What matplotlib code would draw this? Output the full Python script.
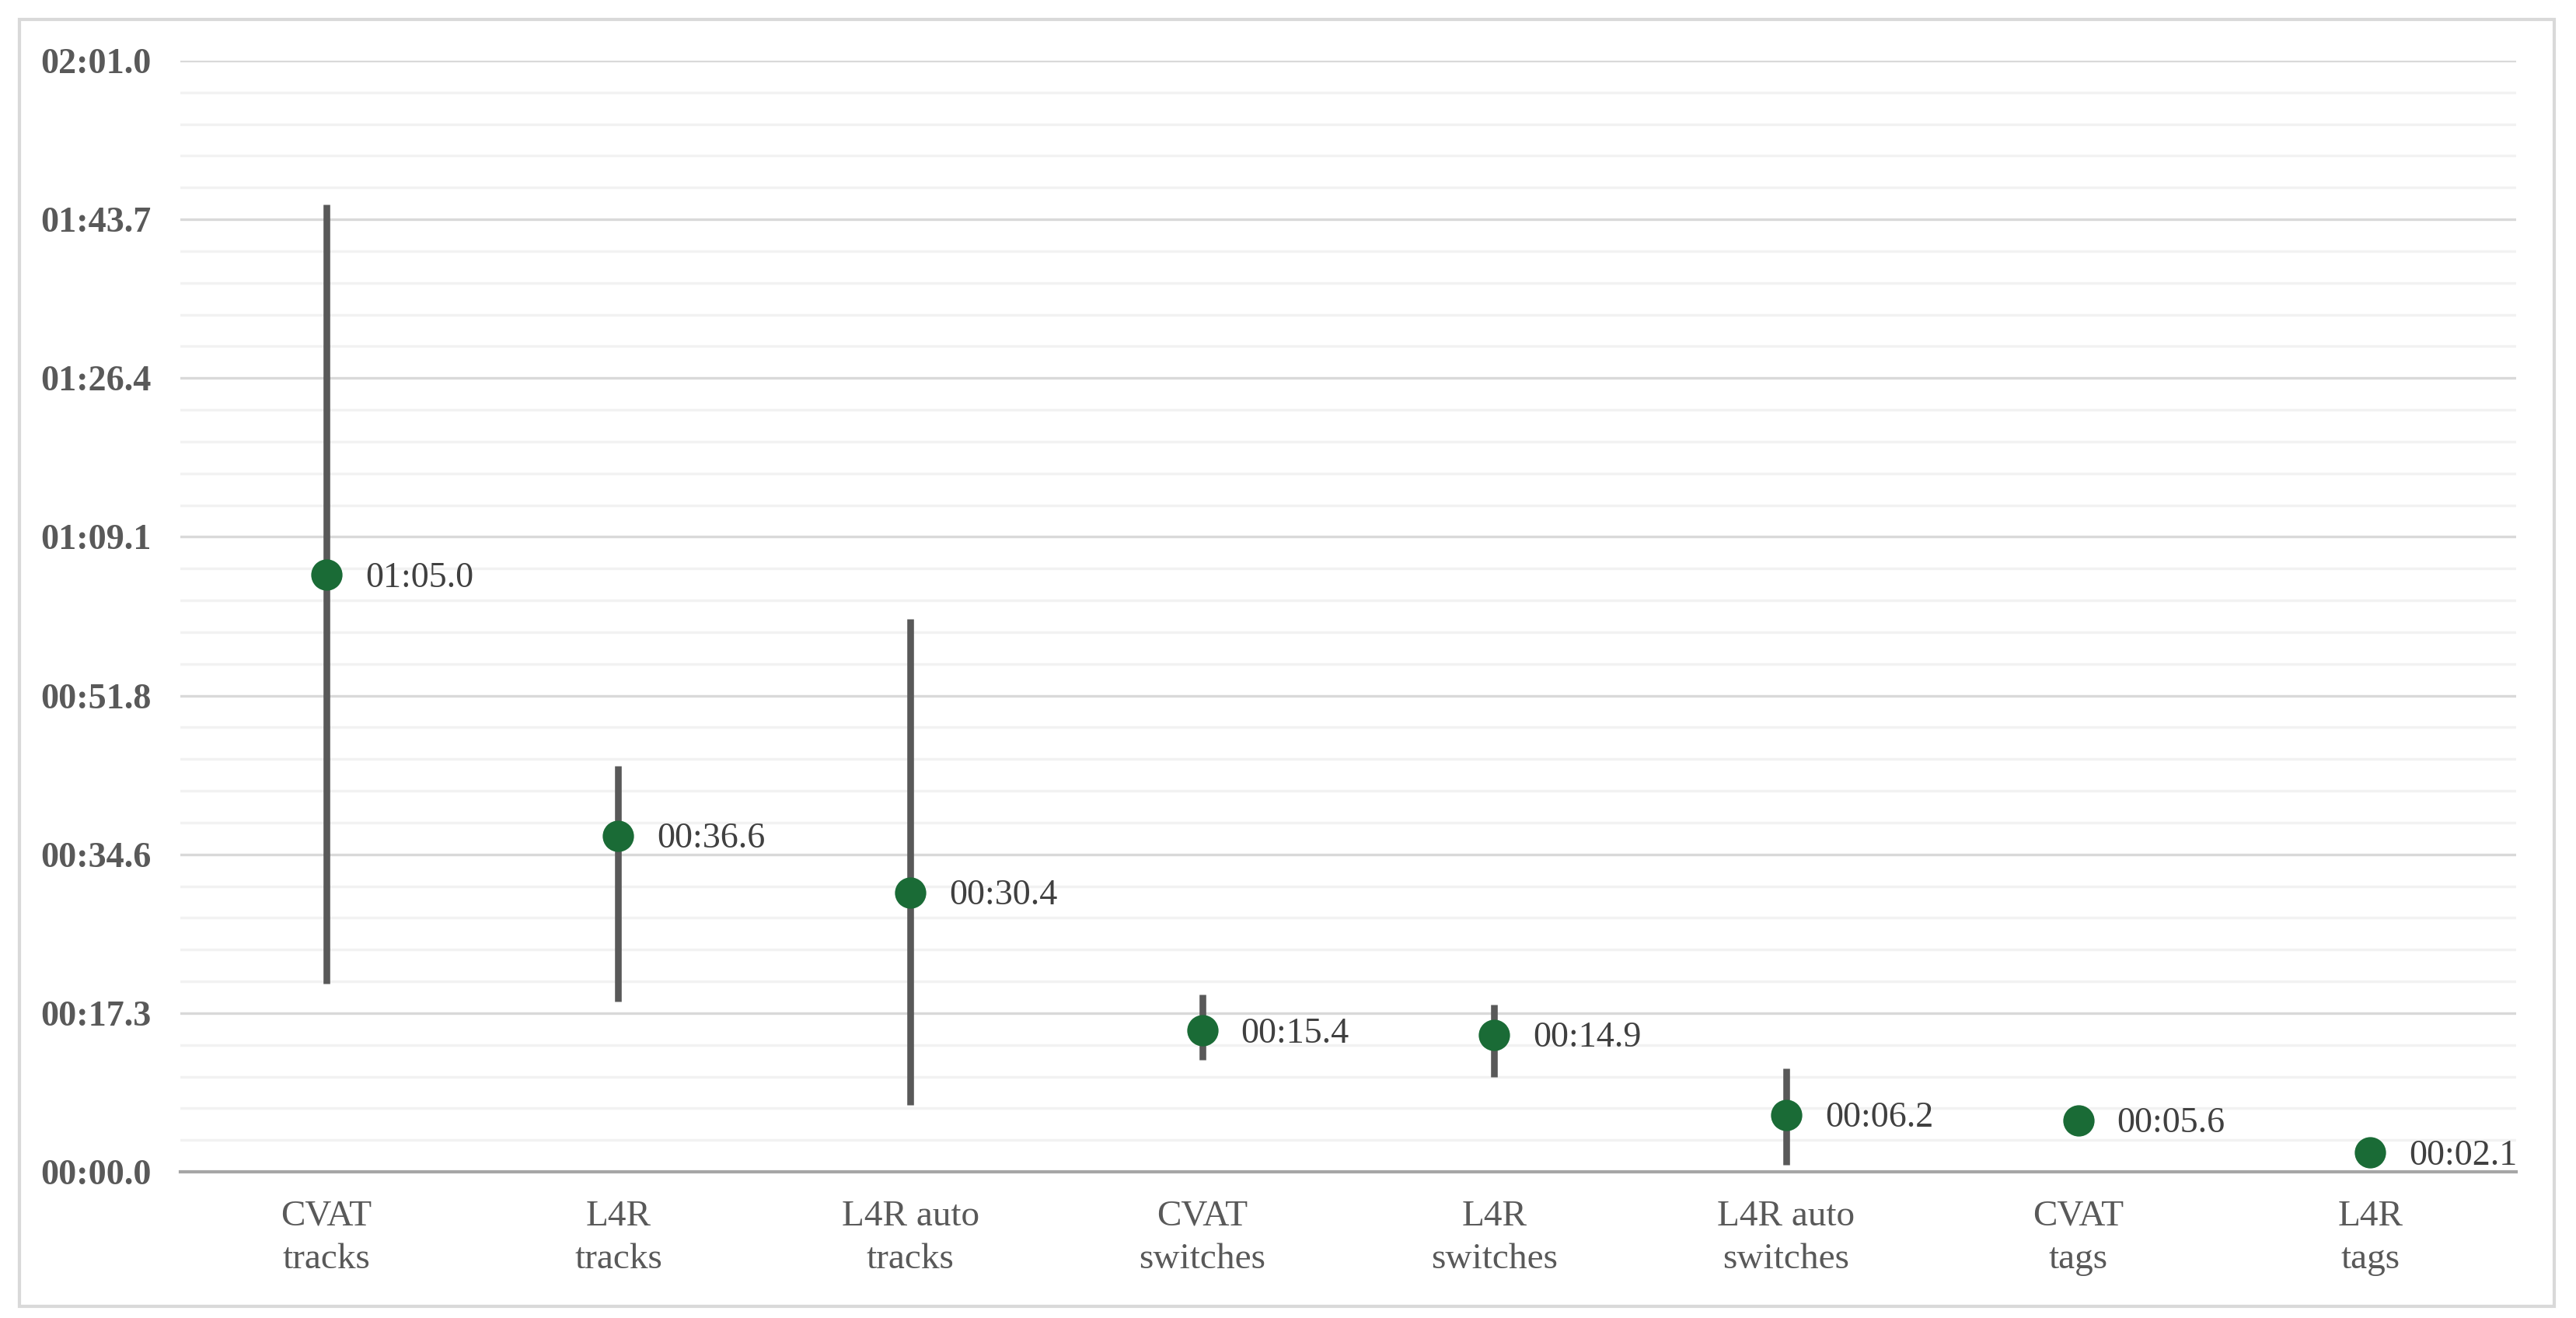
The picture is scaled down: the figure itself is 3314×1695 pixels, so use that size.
import matplotlib
matplotlib.use('Agg')
import matplotlib.pyplot as plt
import matplotlib.patches as mpatches
from matplotlib.ticker import FuncFormatter, MultipleLocator
import numpy as np

plt.rcParams['font.family'] = ['Liberation Serif', 'DejaVu Serif']

categories = ['CVAT\ntracks', 'L4R\ntracks', 'L4R auto\ntracks', 'CVAT\nswitches',
              'L4R\nswitches', 'L4R auto\nswitches', 'CVAT\ntags', 'L4R\ntags']
# times in seconds
mean_time = [65.0, 36.6, 30.4, 15.4, 14.9, 6.2, 5.6, 2.1]
low_time = [20.5, 18.5, 7.3, 12.2, 10.3, 0.8, 4.4, 1.7]
high_time = [105.3, 44.2, 60.2, 19.3, 18.2, 11.3, 7.1, 2.5]
value_labels = ['01:05.0', '00:36.6', '00:30.4', '00:15.4', '00:14.9', '00:06.2', '00:05.6', '00:02.1']

major_step = 17.28   # 0.0002 days
y_max = 120.96

def fmt_time(v, pos=None):
    m = int(v // 60)
    s = v - 60 * m
    return '%02d:%04.1f' % (m, s)

fig = plt.figure(figsize=(3314 / 200, 1695 / 200), dpi=200)
ax = fig.add_axes([0.070, 0.1109, 0.9068, 0.8431])

x = np.arange(len(categories))
mean_arr = np.array(mean_time)
yerr = [mean_arr - np.array(low_time), np.array(high_time) - mean_arr]
ax.errorbar(x, mean_arr, yerr=yerr, fmt='none', ecolor='#595959', elinewidth=3.1,
            capsize=0, zorder=3)
ax.plot(x, mean_arr, 'o', color='#1a6b36', markersize=14.5, markeredgewidth=0, zorder=4)

for xi, yi, lab in zip(x, mean_time, value_labels):
    ax.annotate(lab, (xi, yi), xytext=(18, -1.5), textcoords='offset points',
                ha='left', va='center', fontsize=16.6, color='#404040')

ax.set_xlim(-0.5, len(categories) - 0.5)
ax.set_ylim(0, y_max)
ax.yaxis.set_major_locator(MultipleLocator(major_step))
ax.yaxis.set_minor_locator(MultipleLocator(major_step / 5))
ax.yaxis.set_major_formatter(FuncFormatter(fmt_time))
ax.set_xticks(x)
ax.set_xticklabels(categories, fontsize=17, color='#595959', linespacing=1.4)

for lab in ax.get_yticklabels():
    lab.set_fontweight('bold')
ax.tick_params(axis='y', which='both', length=0, pad=13.5, labelsize=16.6, labelcolor='#595959')
ax.tick_params(axis='x', length=0, pad=13)

ax.grid(True, axis='y', which='major', color='#d9d9d9', linewidth=1.2, zorder=0)
ax.grid(True, axis='y', which='minor', color='#f2f2f2', linewidth=1.2, zorder=0)
ax.set_axisbelow(True)
for side in ['top', 'right', 'left']:
    ax.spines[side].set_visible(False)
ax.spines['bottom'].set_color('#a6a6a6')
ax.spines['bottom'].set_linewidth(1.5)

border = mpatches.Rectangle((0.0075, 0.0088), 0.984, 0.9764, transform=fig.transFigure,
                            fill=False, edgecolor='#d9d9d9', linewidth=1.5)
fig.patches.append(border)

fig.savefig('out.png', dpi=200, facecolor='white')
